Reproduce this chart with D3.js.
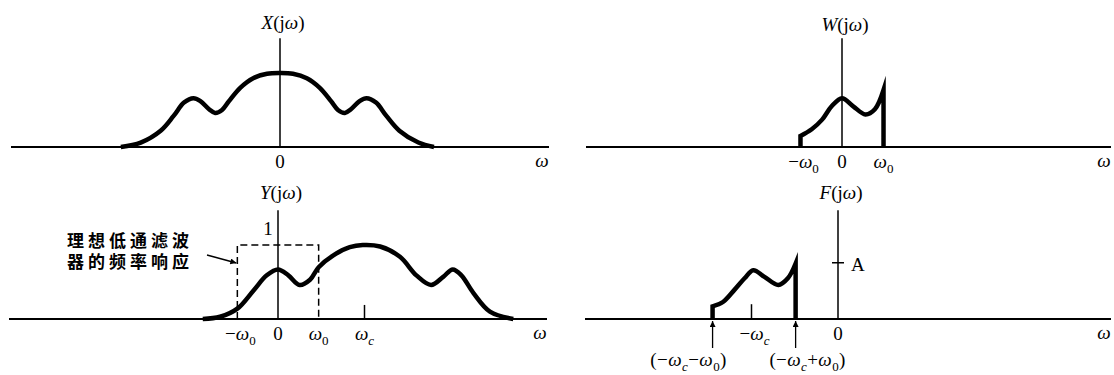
<!DOCTYPE html>
<html>
<head>
<meta charset="utf-8">
<script src="https://cdn.jsdelivr.net/npm/d3@7"></script>
<style>
  body { margin: 0; background: #fff; }
  .container { position: relative; width: 1114px; height: 375px; }
  svg { display: block; }
  text { font-family: "Liberation Serif", "Times New Roman", serif; font-size: 19px; fill: #000; }
  .note { position: absolute; left: 67px; top: 229px; width: 128px;
    font-family: "Noto Sans CJK SC", sans-serif; font-weight: bold; font-size: 17px;
    letter-spacing: 4px; line-height: 21px; color: #000; }
</style>
</head>
<body>
<div class="container"></div>
<script>
// omega in units of wc, magnitude in units of the X(jw) peak
const xOmega = [-1.84, -1.61, -1.38, -1.23, -1.11, -1.0, -0.92, -0.82, -0.75, -0.67, -0.59, -0.46, -0.31, -0.15, 0,
  0.15, 0.31, 0.46, 0.59, 0.67, 0.75, 0.82, 0.92, 1.0, 1.11, 1.23, 1.38, 1.60, 1.78];
const xMag = [0, 0.06, 0.22, 0.42, 0.60, 0.66, 0.62, 0.51, 0.46, 0.50, 0.62, 0.80, 0.93, 0.99, 1.0,
  0.99, 0.93, 0.80, 0.62, 0.50, 0.46, 0.51, 0.62, 0.66, 0.60, 0.42, 0.22, 0.06, 0];

const yOmega = [-0.87, -0.67, -0.47, -0.28, -0.13, 0, 0.12, 0.25, 0.37, 0.47, 0.64, 0.83, 0.98, 1.18, 1.41,
  1.60, 1.77, 1.91, 2.02, 2.12, 2.26, 2.45, 2.72];
const yMag = [0, 0.03, 0.14, 0.39, 0.59, 0.67, 0.59, 0.46, 0.53, 0.70, 0.86, 0.97, 1.0, 0.98, 0.84,
  0.59, 0.46, 0.57, 0.67, 0.59, 0.35, 0.10, 0];

const wOmega = [-0.48, -0.35, -0.23, -0.12, 0, 0.13, 0.27, 0.38, 0.48];
const wMag = [0.15, 0.24, 0.37, 0.55, 0.66, 0.55, 0.44, 0.51, 0.77];

const fOmega = [-1.45, -1.33, -1.20, -1.08, -0.98, -0.85, -0.69, -0.58, -0.49];
const fMag = [0.17, 0.23, 0.39, 0.55, 0.66, 0.57, 0.46, 0.55, 0.75];

// ticks
const xTicks = [0], xTickLabels = ["0"];
const wTicks = [-0.48, 0, 0.48], wTickLabels = ["−ω_0", "0", "ω_0"];
const yTicks = [-0.47, 0, 0.47, 1], yTickLabels = ["−ω_0", "0", "ω_0", "ω_c"];
const fTicks = [-1, 0], fTickLabels = ["−ω_c", "0"];
const filterBand = [-0.47, 0.47], filterGain = 1;
const filterNote = "理想低通滤波器的频率响应";
const fLevel = 0.76; // "A"
const fEdges = [-1.45, -0.49], fEdgeLabels = ["(−ω_c−ω_0)", "(−ω_c+ω_0)"];

const W = 1114, H = 375, unitX = 86.5, unitY = 74;

const svg = d3.select(".container").append("svg")
  .attr("width", W).attr("height", H);

const defs = svg.append("defs");
defs.append("marker")
  .attr("id", "head")
  .attr("viewBox", "0 0 10 10")
  .attr("refX", 10).attr("refY", 5)
  .attr("markerWidth", 9).attr("markerHeight", 6)
  .attr("markerUnits", "userSpaceOnUse")
  .attr("orient", "auto")
  .append("path").attr("d", "M0,0L10,5L0,10Z").attr("fill", "#000");

//write a label with italic letters and subscripts ("_x")
function rich(sel, label) {
  let sub = false;
  for (let i = 0; i < label.length; i++) {
    let ch = label[i];
    if (ch === "_") {
      ch = label[++i];
      sel.append("tspan").attr("dy", 5).attr("font-size", 13)
        .attr("font-style", ch === "c" ? "italic" : "normal").text(ch);
      sub = true;
      continue;
    }
    const t = sel.append("tspan").text(ch);
    if ("XWYFω".includes(ch)) t.attr("font-style", "italic");
    if (sub) { t.attr("dy", -5); sub = false; }
  }
  return sel;
}

function panel(cx, base, axL, axR, title, titleY) {
  const g = svg.append("g");
  const x = d3.scaleLinear().domain([0, 1]).range([cx, cx + unitX]);
  const y = d3.scaleLinear().domain([0, 1]).range([base, base - unitY]);
  // horizontal axis
  g.append("line").attr("x1", axL).attr("x2", axR).attr("y1", base).attr("y2", base)
    .attr("stroke", "#000").attr("stroke-width", 1.8);
  // vertical axis
  g.append("line").attr("x1", x(0)).attr("x2", x(0)).attr("y1", y(1.47)).attr("y2", base)
    .attr("stroke", "#000").attr("stroke-width", 1.5);
  rich(g.append("text").attr("x", x(0) + 3).attr("y", titleY).attr("text-anchor", "middle")
    .attr("font-size", 21), title);
  g.append("text").attr("x", axR - 7).attr("y", base + 20).attr("text-anchor", "middle")
    .attr("font-style", "italic").text("ω");
  return { g, x, y, base };
}

function ticks(p, values, labels) {
  p.g.selectAll(null).data(values).enter().append("text")
    .attr("x", (d, i) => p.x(d) + (labels[i][0] === "−" ? 3 : 0))
    .attr("y", p.base + 21)
    .attr("text-anchor", "middle")
    .each(function(d, i) { rich(d3.select(this), labels[i]); });
}

const line = (p) => d3.line().x(d => p.x(d[0])).y(d => p.y(d[1])).curve(d3.curveCatmullRom.alpha(0.5));

function curve(p, om, mag, edges) {
  const pts = om.map((d, i) => [d, mag[i]]);
  let d = line(p)(pts);
  if (edges) {
    d = `M${p.x(om[0])},${p.base}` + d.replace(/^M/, "L") + `L${p.x(om[om.length - 1])},${p.base}`;
  }
  p.g.append("path").attr("d", d).attr("fill", "none").attr("stroke", "#000")
    .attr("stroke-width", 4.5).attr("stroke-linejoin", "miter").attr("stroke-miterlimit", 10);
}

// X(jw)
const p1 = panel(280, 147, 11, 549, "X(jω)", 29);
curve(p1, xOmega, xMag, false);
ticks(p1, xTicks, xTickLabels);

// W(jw)
const p2 = panel(842, 147, 586, 1111, "W(jω)", 31);
curve(p2, wOmega, wMag, true);
ticks(p2, wTicks, wTickLabels);

// Y(jw)
const p3 = panel(278, 319, 9, 547, "Y(jω)", 199);
curve(p3, yOmega, yMag, false);
ticks(p3, yTicks, yTickLabels);
p3.g.append("line").attr("x1", p3.x(1)).attr("x2", p3.x(1)).attr("y1", p3.base).attr("y2", p3.y(0.19))
  .attr("stroke", "#000").attr("stroke-width", 1.5);
p3.g.append("path")
  .attr("d", `M${p3.x(filterBand[0])},${p3.base}V${p3.y(filterGain)}H${p3.x(filterBand[1])}V${p3.base}`)
  .attr("fill", "none").attr("stroke", "#000").attr("stroke-width", 1.5).attr("stroke-dasharray", "7,4");
p3.g.append("text").attr("x", p3.x(0) - 10).attr("y", p3.y(filterGain) - 10)
  .attr("text-anchor", "middle").text("1");
// note wraps onto two lines inside its box
d3.select(".container").append("div").attr("class", "note").text(filterNote);
p3.g.append("line").attr("x1", 207).attr("y1", 255).attr("x2", p3.x(filterBand[0]) - 1).attr("y2", 263)
  .attr("stroke", "#000").attr("stroke-width", 1.4).attr("marker-end", "url(#head)");

// F(jw)
const p4 = panel(838, 319, 585, 1111, "F(jω)", 199);
curve(p4, fOmega, fMag, true);
ticks(p4, fTicks, fTickLabels);
p4.g.append("line").attr("x1", p4.x(-1)).attr("x2", p4.x(-1)).attr("y1", p4.base).attr("y2", p4.y(0.2))
  .attr("stroke", "#000").attr("stroke-width", 1.5);
p4.g.append("line").attr("x1", p4.x(0) - 6).attr("x2", p4.x(0) + 6).attr("y1", p4.y(fLevel)).attr("y2", p4.y(fLevel))
  .attr("stroke", "#000").attr("stroke-width", 1.5);
p4.g.append("text").attr("x", p4.x(0) + 13).attr("y", p4.y(fLevel) + 8).text("A");
p4.g.selectAll(null).data(fEdges).enter().append("line")
  .attr("x1", d => p4.x(d)).attr("x2", d => p4.x(d))
  .attr("y1", 348).attr("y2", p4.base + 2)
  .attr("stroke", "#000").attr("stroke-width", 1.3).attr("marker-end", "url(#head)");
p4.g.selectAll(null).data(fEdges).enter().append("text")
  .attr("x", (d, i) => p4.x(d) + (i === 0 ? -24 : 12))
  .attr("y", 366)
  .attr("text-anchor", "middle")
  .attr("letter-spacing", 0.4)
  .each(function(d, i) { rich(d3.select(this), fEdgeLabels[i]); });
</script>
</body>
</html>
